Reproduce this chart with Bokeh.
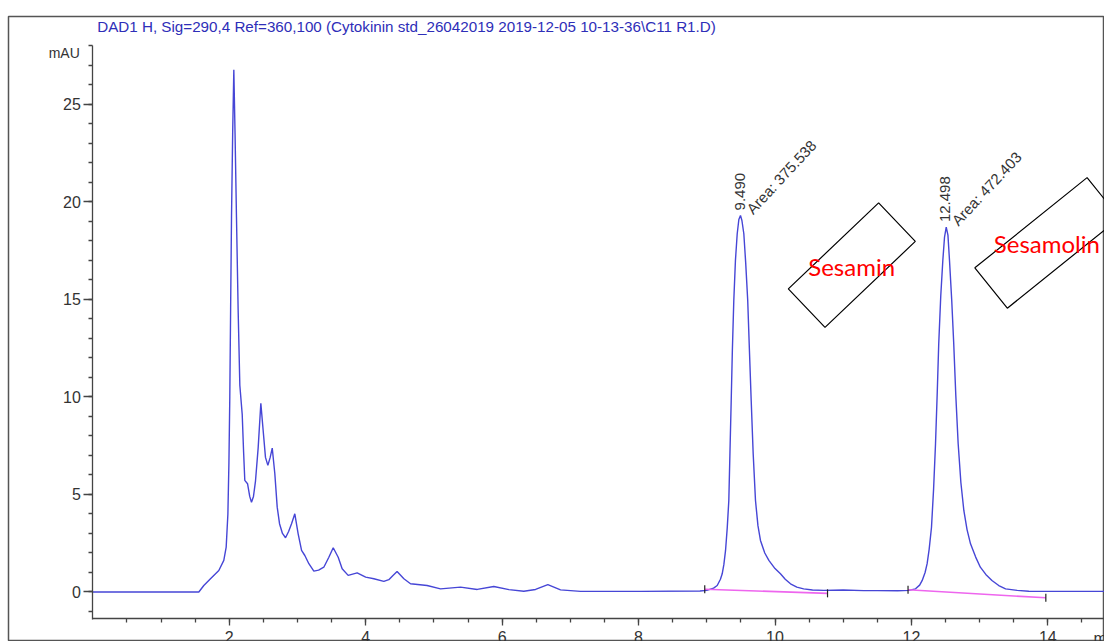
import math
from bokeh.plotting import figure
from bokeh.models import Range1d, FixedTicker, Label
from bokeh.embed import file_html
from bokeh.resources import INLINE

# ---- data ----
time_min = [0.0, 1.554, 1.627, 1.725, 1.847, 1.92, 1.955, 1.98, 1.995, 2.008, 2.02, 2.033, 2.05, 2.067,
            2.085, 2.106, 2.13, 2.155, 2.19, 2.21, 2.228, 2.268, 2.30, 2.326, 2.355, 2.385, 2.424, 2.463,
            2.497, 2.531, 2.566, 2.60, 2.63, 2.668, 2.703, 2.737, 2.78, 2.825, 2.87, 2.913, 2.961, 3.01,
            3.06, 3.108, 3.167, 3.24, 3.31, 3.386, 3.46, 3.524, 3.597, 3.655, 3.743, 3.875, 4.0, 4.12,
            4.266, 4.339, 4.40, 4.46, 4.56, 4.657, 4.9, 5.097, 5.39, 5.635, 5.878, 6.1, 6.318, 6.49, 6.67,
            6.856, 7.15, 8.03, 8.9, 9.0, 9.1, 9.153, 9.2, 9.226, 9.25, 9.275, 9.30, 9.323, 9.34, 9.358,
            9.375, 9.396, 9.42, 9.446, 9.47, 9.494, 9.515, 9.543, 9.57, 9.60, 9.625, 9.651, 9.68, 9.714,
            9.75, 9.787, 9.85, 9.91, 10.0, 10.08, 10.15, 10.227, 10.32, 10.42, 10.55, 10.715, 11.0, 11.3,
            11.5, 11.8, 11.96, 12.06, 12.12, 12.158, 12.2, 12.23, 12.26, 12.294, 12.325, 12.353, 12.378,
            12.40, 12.43, 12.46, 12.485, 12.51, 12.535, 12.558, 12.59, 12.62, 12.65, 12.685, 12.725,
            12.768, 12.815, 12.866, 12.94, 13.01, 13.09, 13.18, 13.28, 13.38, 13.55, 13.72, 13.965, 14.3,
            14.83]
signal_mau = [0.0, 0.0, 0.33, 0.68, 1.10, 1.62, 2.3, 4.0, 6.6, 10.0, 14.5, 19.2, 23.5, 26.78,
              23.5, 19.2, 14.5, 10.6, 9.1, 7.2, 5.72, 5.55, 4.9, 4.6, 4.9, 5.7, 7.4, 9.68,
              8.28, 6.9, 6.49, 6.9, 7.38, 6.06, 4.35, 3.5, 3.0, 2.78, 3.1, 3.5, 4.01, 2.98,
              2.13, 1.87, 1.45, 1.07, 1.12, 1.27, 1.78, 2.27, 1.78, 1.19, 0.85, 0.98, 0.76, 0.68,
              0.54, 0.63, 0.85, 1.05, 0.68, 0.42, 0.33, 0.16, 0.25, 0.13, 0.28, 0.12, 0.04, 0.13, 0.38,
              0.11, 0.03, 0.03, 0.05, 0.08, 0.2, 0.33, 0.65, 0.93, 1.4, 2.13, 3.3, 4.69, 7.2, 9.82,
              12.4, 14.95, 17.0, 18.37, 19.1, 19.31, 19.05, 18.37, 16.9, 14.95, 12.4, 9.82, 7.1, 4.69,
              3.4, 2.64, 2.0, 1.62, 1.2, 0.93, 0.65, 0.42, 0.25, 0.16, 0.1, 0.08, 0.1, 0.07,
              0.07, 0.06, 0.08, 0.16, 0.35, 0.59, 1.0, 1.45, 2.2, 3.32, 5.3, 7.6, 10.2,
              12.73, 15.2, 17.0, 18.2, 18.71, 18.3, 17.0, 15.0, 12.73, 10.1, 7.6, 5.6,
              4.18, 3.2, 2.47, 1.8, 1.27, 0.9, 0.59, 0.33, 0.16, 0.08, 0.04, 0.03, 0.03,
              0.03]

peak_rt = [9.490, 12.498]
peak_height = [19.31, 18.71]
peak_area = [375.538, 472.403]
compound = ["Sesamin", "Sesamolin"]

base_start_t = [8.97, 11.95]
base_start_y = [0.14, 0.11]
base_end_t = [10.77, 13.97]
base_end_y = [-0.07, -0.30]

x_ticks = [2, 4, 6, 8, 10, 12, 14]
y_ticks = [0, 5, 10, 15, 20, 25]

title_text = "DAD1 H, Sig=290,4 Ref=360,100 (Cytokinin std_26042019 2019-12-05 10-13-36\\C11 R1.D)"

# ---- figure ----
p = figure(width=1104, height=641, output_backend="svg", toolbar_location=None,
           x_range=Range1d(-1.236, 14.83), y_range=Range1d(-2.54, 29.51),
           min_border_left=8, min_border_right=0, min_border_top=16, min_border_bottom=0)
p.title.visible = False
p.xgrid.visible = False
p.ygrid.visible = False
p.outline_line_color = "#555555"
p.outline_line_width = 1.5
p.background_fill_color = "white"
p.border_fill_color = "white"

FONT = "Liberation Sans"
AX = "#444444"

xa = p.xaxis[0]
xa.fixed_location = -1.37
xa.bounds = (0, 15)
xa.ticker = FixedTicker(ticks=x_ticks, minor_ticks=[i * 0.5 for i in range(1, 31)])
ya = p.yaxis[0]
ya.fixed_location = 0
ya.bounds = (-1.4, 28)
ya.ticker = FixedTicker(ticks=y_ticks, minor_ticks=list(range(-1, 29)))
for ax, mj in ((xa, 7), (ya, 9)):
    ax.axis_line_color = AX
    ax.axis_line_width = 1.3
    ax.major_tick_line_color = AX
    ax.minor_tick_line_color = AX
    ax.major_tick_line_width = 1.3
    ax.minor_tick_line_width = 1.3
    ax.major_tick_in = 0
    ax.major_tick_out = mj
    ax.minor_tick_in = 0
    ax.minor_tick_out = 4
    ax.major_label_text_font = FONT
    ax.major_label_text_font_size = "16px"
    ax.major_label_text_color = "#333333"
xa.major_label_standoff = 5
ya.major_label_standoff = 3

# trace
p.line(time_min, signal_mau, line_color="#4646d6", line_width=1.4)

# integration baselines + tick marks
p.segment(x0=base_start_t, y0=base_start_y, x1=base_end_t, y1=base_end_y,
          line_color="#ee66ee", line_width=1.6)
p.scatter(x=base_start_t + base_end_t, y=base_start_y + base_end_y, marker="dash",
          angle=math.pi / 2, size=8, line_color="#222222", line_width=1.2)

# peak labels
for rt, h, area in zip(peak_rt, peak_height, peak_area):
    p.add_layout(Label(x=rt, y=h, text=f"{rt:.3f}", angle=math.pi / 2, y_offset=5,
                       text_align="left", text_baseline="middle", text_font=FONT,
                       text_font_size="15px", text_color="#333333"))
    p.add_layout(Label(x=rt, y=h, text=f"Area: {area:.3f}", angle=math.radians(47),
                       x_offset=9, y_offset=4, text_align="left", text_baseline="alphabetic",
                       text_font=FONT, text_font_size="15px", text_color="#333333"))

# annotation boxes with compound names
p.rect(x=[11.126, 13.99], y=[16.76, 17.90], width=[124.7, 144], height=[53.2, 51.8],
       angle=[math.radians(43.6), math.radians(38.8)], width_units="screen", height_units="screen",
       fill_color=None, line_color="black", line_width=1.2)
for name, (lx, ly) in zip(compound, [(10.487, 16.71), (13.207, 17.89)]):
    p.add_layout(Label(x=lx, y=ly, text=name, text_align="left", text_baseline="middle",
                       text_font="Lato", text_font_size="24px", text_color="#ff0000"))

# axis texts
p.add_layout(Label(x=0, y=28, x_offset=-13, y_offset=-7, text="mAU", text_align="right",
                   text_baseline="middle", text_font=FONT, text_font_size="14px",
                   text_color="#333333"))
p.add_layout(Label(x=14.67, y=-1.97, text="min", text_align="left", text_baseline="top",
                   text_font=FONT, text_font_size="16px", text_color="#333333"))
p.add_layout(Label(x=0, y=29.0, x_offset=4.4, text=title_text, text_align="left",
                   text_baseline="middle", text_font=FONT, text_font_size="15.2px",
                   text_color="#2e2eb8"))

open("out.html", "w").write(file_html(p, INLINE))
